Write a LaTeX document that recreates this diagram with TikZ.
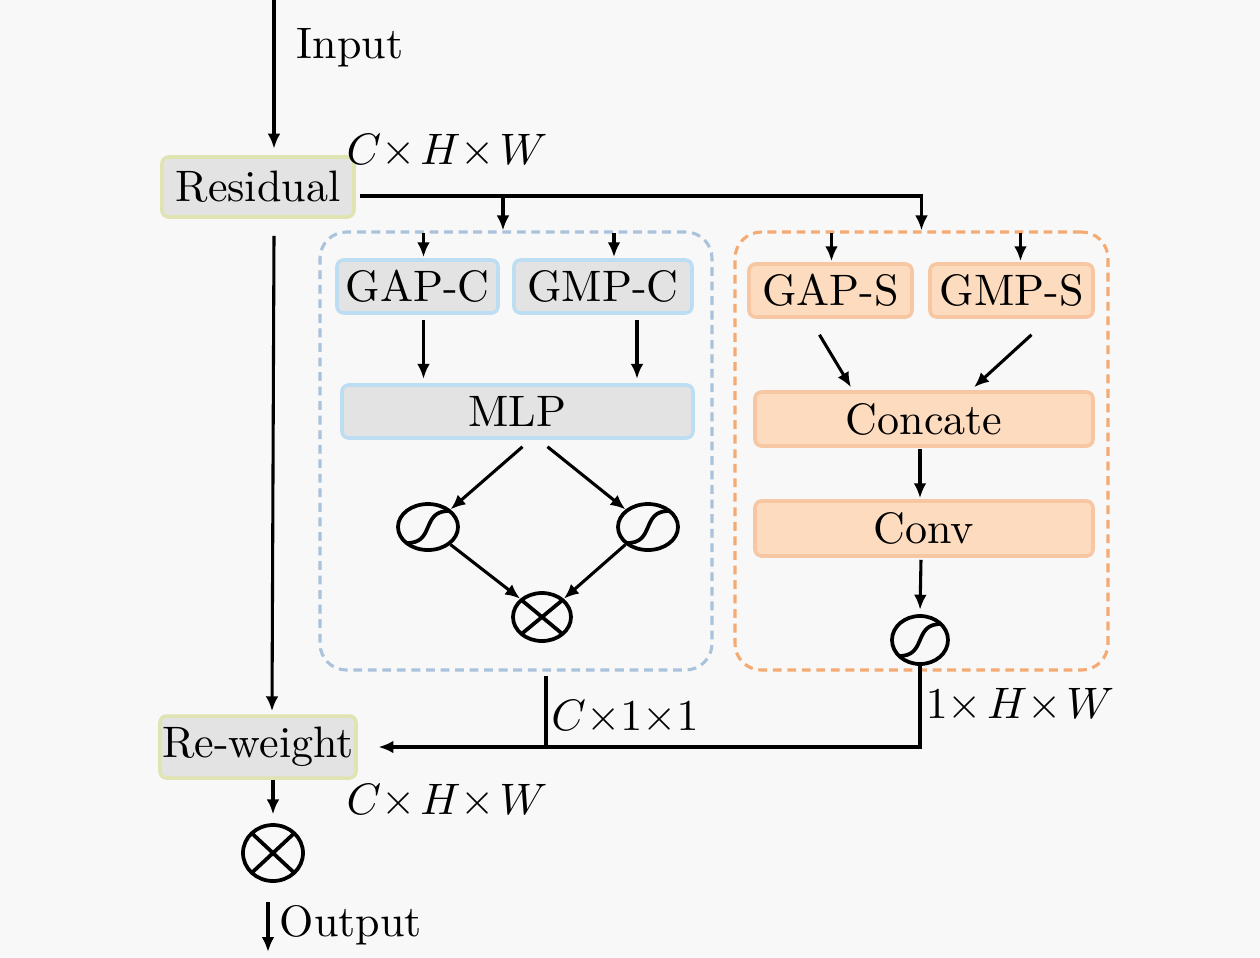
\documentclass[tikz,border=0pt]{standalone}
\usepackage{amsmath}
\usepackage{tikz}
\usetikzlibrary{
  arrows.meta,
  positioning,
  calc,
  shapes.geometric
}
\definecolor{bggray}{HTML}{F8F8F8}
\definecolor{boxgray}{HTML}{E3E3E3}
\definecolor{resline}{HTML}{E0E4B2}
\definecolor{mlpline}{HTML}{BDDDF2}
\definecolor{peach}{HTML}{FDDBBE}
\definecolor{peachline}{HTML}{F6C7A2}
\definecolor{chanline}{HTML}{A8C3DB}
\definecolor{spatline}{HTML}{F4AA72}
\newcommand{\px}{0.227pt}

\begin{document}
\begin{tikzpicture}[x=\px, y=-\px,
    blk/.style={rounded corners=1.5pt, line width=0.8pt, inner sep=0pt,
      font=\fontsize{10}{12}\selectfont},
    resblk/.style={blk, fill=boxgray, draw=resline},
    cblk/.style={blk, fill=boxgray, draw=mlpline},
    sblk/.style={blk, fill=peach, draw=peachline},
    grp/.style={dash pattern=on 2pt off 1.3pt, line width=0.7pt,
      rounded corners=6pt, inner sep=0pt},
    sig/.style={ellipse, draw, line width=0.85pt, inner sep=0pt,
      path picture={\draw[line width=0.85pt, shift={(path picture bounding box.center)}]
        (-22,16) .. controls (8,17) and (-8,-17) .. (22,-16);}},
    mul/.style={ellipse, draw, line width=0.85pt, inner sep=0pt,
      path picture={\draw[line width=0.85pt]
        (path picture bounding box.north west) -- (path picture bounding box.south east)
        (path picture bounding box.south west) -- (path picture bounding box.north east);}},
    arr/.style={-{Latex[length=3.4pt,width=2.9pt]}, line width=0.7pt},
    lbl/.style={font=\fontsize{10}{12}\selectfont, inner sep=0pt}
  ]
    \useasboundingbox[fill=bggray] (0,0) rectangle (1260,958);

    % dashed groups
    \node[grp, draw=chanline, minimum width=392*\px, minimum height=438*\px] (chan) at (516,451) {};
    \node[grp, draw=spatline, minimum width=373*\px, minimum height=438*\px] (spat) at (921.5,451) {};

    % main column
    \coordinate (inA) at (274,0);
    \node[resblk, minimum width=192*\px, minimum height=60*\px] (res) at (258,187) {Residual};
    \node[resblk, minimum width=196*\px, minimum height=62*\px] (rew) at (258,747) {Re-weight};
    \node[mul, minimum width=60*\px, minimum height=56*\px] (mulO) at (273,853) {};
    \coordinate (outA) at (268,902);
    \coordinate (outB) at (268,952);

    % channel branch
    \node[cblk, minimum width=161*\px, minimum height=53*\px] (gapc) at (417.5,286.5) {GAP-C};
    \node[cblk, minimum width=178*\px, minimum height=53*\px] (gmpc) at (603,286.5) {GMP-C};
    \node[cblk, minimum width=351*\px, minimum height=53*\px] (mlp) at (517.5,411.5) {MLP};
    \node[sig, minimum width=60*\px, minimum height=46*\px] (sigL) at (428,527) {};
    \node[sig, minimum width=60*\px, minimum height=46*\px] (sigR) at (648,527) {};
    \node[mul, minimum width=58*\px, minimum height=48*\px] (mulC) at (542,617) {};

    % spatial branch
    \node[sblk, minimum width=163*\px, minimum height=53*\px] (gaps) at (830.5,290.5) {GAP-S};
    \node[sblk, minimum width=163*\px, minimum height=53*\px] (gmps) at (1011.5,290.5) {GMP-S};
    \node[sblk, minimum width=338*\px, minimum height=54*\px] (cat) at (924,419) {Concate};
    \node[sblk, minimum width=338*\px, minimum height=55*\px] (conv) at (924,528.5) {Conv};
    \node[sig, minimum width=56*\px, minimum height=48*\px] (sigS) at (920,640) {};

    % labels
    \node[lbl] (lin) at (350,48) {Input};
    \node[lbl] (dimA) at (447,151) {$C{\times}\mkern2mu H{\times}\mkern2mu W$};
    \node[lbl] (dimC) at (625,717) {$C{\times}1{\times}1$};
    \node[lbl] (dimS) at (1020,705) {$1{\times}\mkern2mu H{\times}\mkern2mu W$};
    \node[lbl] (dimB) at (447,801) {$C{\times}\mkern2mu H{\times}\mkern2mu W$};
    \node[lbl] (lout) at (351,925) {Output};

    % connectors
    \draw[arr, shorten >=1.5pt] (inA) -- (inA |- res.north);
    \coordinate (rs) at ($(res.east)+(4,9)$);
    \draw[arr] (rs) -| (spat.north);
    \coordinate (brC) at ($(chan.north)+(-13,0)$);
    \draw[arr] (rs -| brC) -- (brC);
    \draw[arr] ($(res.south)+(16,17)$) -- ($(rew.north)+(14,-3)$);
    \draw[arr, shorten >=2pt] (rew.south -| mulO) -- (mulO.north);
    \draw[arr] (outA) -- (outB);

    \draw[arr] ($(gapc.north |- chan.north)+(6,3)$) -- ($(gapc.north)+(6,-1)$);
    \draw[arr] ($(gmpc.north |- chan.north)+(11,3)$) -- ($(gmpc.north)+(11,-1)$);
    \coordinate (ga) at ($(gapc.south)+(6,5)$);
    \coordinate (gm) at ($(gmpc.south)+(34,5)$);
    \draw[arr, shorten >=1pt] (ga) -- (ga |- mlp.north);
    \draw[arr, shorten >=1pt] (gm) -- (gm |- mlp.north);
    \draw[arr] ($(mlp.south)+(5,7)$) -- (sigL.north east);
    \draw[arr] ($(mlp.south)+(30,7)$) -- (sigR.north west);
    \draw[arr] (sigL.south east) -- (mulC.north west);
    \draw[arr] (sigR.south west) -- (mulC.north east);

    \draw[arr] ($(gaps.north |- spat.north)+(1,3)$) -- ($(gaps.north)+(1,-1)$);
    \draw[arr] ($(gmps.north |- spat.north)+(9,3)$) -- ($(gmps.north)+(9,-1)$);
    \draw[arr] ($(gaps.south)+(-11,16)$) -- ($(cat.north)+(-73,-3)$);
    \draw[arr] ($(gmps.south)+(20,16)$) -- ($(cat.north)+(50,-3)$);
    \draw[arr] ($(cat.south)+(-4,1)$) -- ($(conv.north)+(-4,-1)$);
    \draw[arr, shorten >=1pt] ($(conv.south)+(-3,2)$) -- (sigS.north);

    \draw[arr, shorten >=4.7pt] (sigS.south) |- (rew.east);
    \draw[line width=0.7pt] ($(mulC |- chan.south)+(4,4)$) -- ($(mulC |- rew.east)+(4,0)$);
  \end{tikzpicture}
\end{document}
